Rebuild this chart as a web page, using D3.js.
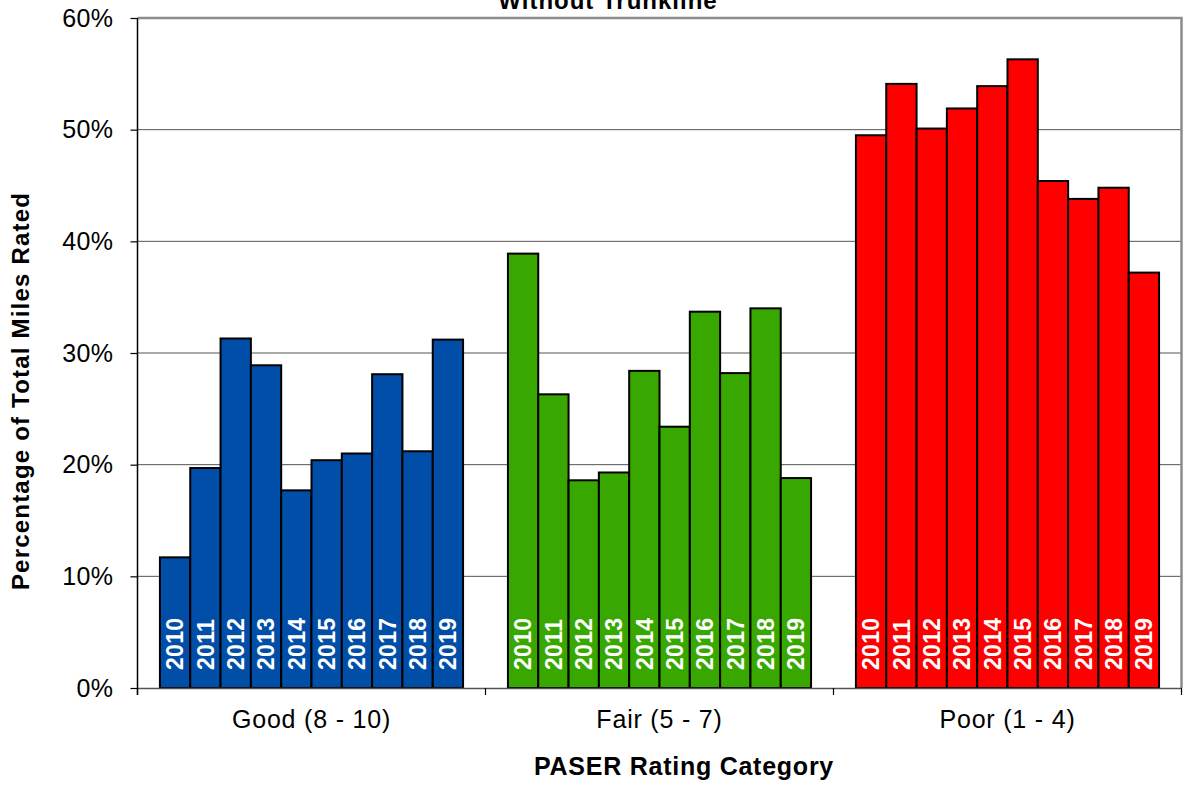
<!DOCTYPE html>
<html>
<head>
<meta charset="utf-8">
<script src="https://cdn.jsdelivr.net/npm/d3@7"></script>
<style>
  body { margin: 0; background: #fff; }
  text { font-family: "Liberation Sans", Arial, sans-serif; }
</style>
</head>
<body>
<script>
const categories = ['Good (8 - 10)', 'Fair (5 - 7)', 'Poor (1 - 4)'];
const years = ['2010', '2011', '2012', '2013', '2014', '2015', '2016', '2017', '2018', '2019'];
const good = [11.7, 19.7, 31.3, 28.9, 17.7, 20.4, 21.0, 28.1, 21.2, 31.2];
const fair = [38.9, 26.3, 18.6, 19.3, 28.4, 23.4, 33.7, 28.2, 34.0, 18.8];
const poor = [49.5, 54.1, 50.1, 51.9, 53.9, 56.3, 45.4, 43.8, 44.8, 37.2];
const yTicks = [0, 10, 20, 30, 40, 50, 60];
const colors = ['#004ea8', '#38a800', '#ff0000'];

const series = [good, fair, poor];
let bars = [];
categories.forEach(function (c, i) {
    years.forEach(function (y, j) {
        bars.push({category: c, year: y, value: series[i][j], color: colors[i]});
    });
});

const width = 1187, height = 785;
const margins = {top: 18, bottom: 97, left: 137.5, right: 5.5};

const svg = d3.select('body').append('svg')
    .attr('width', width)
    .attr('height', height);

const x0 = d3.scaleBand()
    .domain(categories)
    .range([margins.left, width - margins.right]);

const x1 = d3.scaleBand()
    .domain(years)
    .range([0, x0.bandwidth()])
    .paddingInner(0)
    .paddingOuter(0.74);

const y = d3.scaleLinear()
    .domain([0, 60])
    .range([height - margins.bottom, margins.top]);

// gridlines
svg.append('g')
    .selectAll('line')
    .data(yTicks.filter(d => d > 0 && d < 60))
    .enter()
    .append('line')
    .attr('x1', margins.left)
    .attr('x2', width - margins.right)
    .attr('y1', d => y(d))
    .attr('y2', d => y(d))
    .attr('stroke', '#555')
    .attr('stroke-width', 1);

// plot border (top + right)
svg.append('path')
    .attr('d', 'M' + margins.left + ',' + y(60) + 'H' + (width - margins.right) + 'V' + y(0))
    .attr('fill', 'none')
    .attr('stroke', '#8c8c8c')
    .attr('stroke-width', 2.5);

// bars
svg.append('g')
    .selectAll('rect')
    .data(bars)
    .enter()
    .append('rect')
    .attr('x', d => x0(d.category) + x1(d.year))
    .attr('y', d => y(d.value))
    .attr('width', x1.bandwidth())
    .attr('height', d => y(0) - y(d.value))
    .attr('fill', d => d.color)
    .attr('stroke', '#000')
    .attr('stroke-width', 2);

// year labels inside bars
svg.append('g')
    .selectAll('text')
    .data(bars)
    .enter()
    .append('text')
    .attr('transform', function (d) {
        const cx = x0(d.category) + x1(d.year) + x1.bandwidth() / 2 + 8.3;
        return 'translate(' + cx + ',' + (y(0) - 18) + ') rotate(-90)';
    })
    .attr('fill', '#fff')
    .attr('font-weight', 'bold')
    .attr('font-size', '23px')
    .attr('letter-spacing', '0.3px')
    .text(d => d.year);

// y axis
const yAxis = d3.axisLeft(y)
    .tickValues(yTicks)
    .tickSize(7)
    .tickFormat(d => d + '%');

const gy = svg.append('g')
    .attr('transform', 'translate(' + margins.left + ',0)')
    .call(yAxis);
gy.select('.domain').attr('stroke', '#000').attr('stroke-width', 1.5)
    .attr('d', 'M0,' + y(60) + 'V' + (y(0) + 7));
gy.selectAll('.tick line').attr('stroke', '#000').attr('stroke-width', 1.2);
gy.selectAll('.tick text')
    .attr('x', -24)
    .attr('fill', '#000')
    .attr('font-size', '25px')
    .attr('letter-spacing', '0.4px')
    .attr('font-family', '"Liberation Sans", Arial, sans-serif');

// x axis
const xAxis = d3.axisBottom(x0).tickSize(0).tickPadding(22);
const gx = svg.append('g')
    .attr('transform', 'translate(0,' + y(0) + ')')
    .call(xAxis);
gx.select('.domain').attr('stroke', '#555').attr('stroke-width', 1.5);
gx.selectAll('.tick text')
    .attr('fill', '#000')
    .attr('font-size', '25px')
    .attr('letter-spacing', '0.8px')
    .attr('font-family', '"Liberation Sans", Arial, sans-serif');

// x ticks between categories
const boundaries = categories.map(c => x0(c)).concat([x0.range()[1]]);
svg.append('g')
    .selectAll('line')
    .data(boundaries)
    .enter()
    .append('line')
    .attr('x1', d => d)
    .attr('x2', d => d)
    .attr('y1', y(0))
    .attr('y2', y(0) + 7)
    .attr('stroke', '#000')
    .attr('stroke-width', 1.2);

// titles
svg.append('text')
    .attr('x', 608)
    .attr('y', 9)
    .attr('text-anchor', 'middle')
    .attr('font-weight', 'bold')
    .attr('font-size', '24px')
    .attr('letter-spacing', '1px')
    .text('Without Trunkline');

svg.append('text')
    .attr('x', 684)
    .attr('y', 775)
    .attr('text-anchor', 'middle')
    .attr('font-weight', 'bold')
    .attr('font-size', '25px')
    .attr('letter-spacing', '0.75px')
    .text('PASER Rating Category');

svg.append('text')
    .attr('transform', 'translate(29,391) rotate(-90)')
    .attr('text-anchor', 'middle')
    .attr('font-weight', 'bold')
    .attr('font-size', '24px')
    .attr('letter-spacing', '1.2px')
    .text('Percentage of Total Miles Rated');
</script>
</body>
</html>
